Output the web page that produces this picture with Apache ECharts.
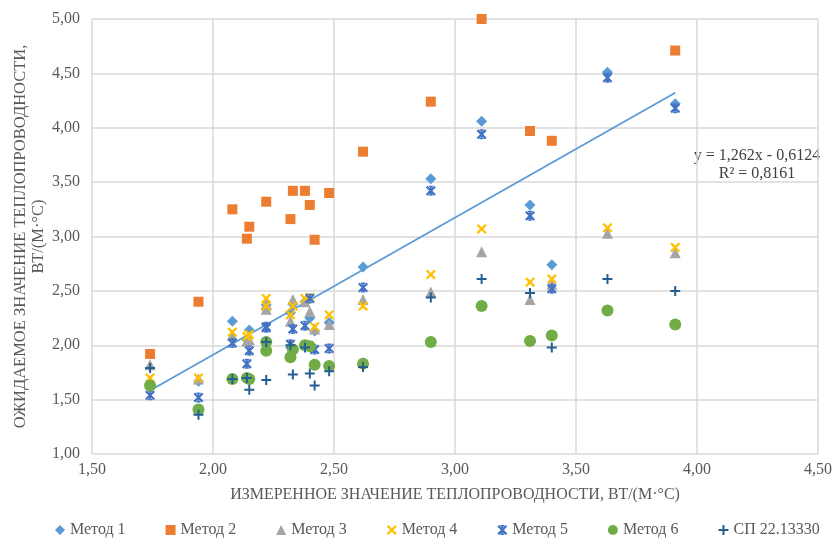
<!DOCTYPE html>
<html><head><meta charset="utf-8">
<script src="https://cdn.jsdelivr.net/npm/echarts@6/dist/echarts.min.js"></script>
<style>html,body{margin:0;padding:0;background:#fff}#c{width:832px;height:544px}</style>
</head><body><div id="c"></div>
<script>
// measured conductivity (x)
const xValues = [1.74, 1.94, 2.08, 2.14, 2.15, 2.22, 2.22, 2.32, 2.33, 2.38, 2.40, 2.42, 2.48, 2.62, 2.90, 3.11, 3.31, 3.40, 3.63, 3.91];
const metod1 = [1.64, 1.67, 2.22, 2.05, 2.14, 2.37, 2.33, 2.30, 2.38, 2.40, 2.25, 2.13, 2.21, 2.72, 3.53, 4.06, 3.29, 2.74, 4.51, 4.22];
const metod2 = [1.92, 2.40, 3.25, 2.98, 3.09, 3.32, null, 3.16, 3.42, 3.42, 3.29, 2.97, 3.40, 3.78, 4.24, 5.00, 3.97, 3.88, null, 4.71];
const metod3 = [1.82, 1.69, 2.09, 2.04, 2.05, 2.38, 2.33, 2.22, 2.42, 2.40, 2.31, 2.15, 2.19, 2.42, 2.49, 2.86, 2.42, 2.56, 3.03, 2.85];
const metod4 = [1.70, 1.70, 2.12, 2.08, 2.10, 2.43, 2.36, 2.28, 2.36, 2.43, 2.44, 2.17, 2.28, 2.36, 2.65, 3.07, 2.58, 2.61, 3.08, 2.90];
const metod5 = [1.54, 1.52, 2.02, 1.83, 1.95, 2.16, 2.17, 2.01, 2.15, 2.18, 2.43, 1.96, 1.97, 2.53, 3.42, 3.94, 3.19, 2.52, 4.46, 4.18];
const metod6 = [1.63, 1.41, 1.69, 1.70, 1.69, 2.03, 1.95, 1.89, 1.96, 2.00, 1.99, 1.82, 1.81, 1.83, 2.03, 2.36, 2.04, 2.09, 2.32, 2.19];
const sp = [1.79, 1.36, 1.69, 1.70, 1.59, 2.03, 1.68, 2.00, 1.73, 1.98, 1.74, 1.63, 1.76, 1.80, 2.44, 2.61, 2.48, 1.98, 2.61, 2.50];
const seriesNames = ['Метод 1', 'Метод 2', 'Метод 3', 'Метод 4', 'Метод 5', 'Метод 6', 'СП 22.13330'];
const trendSlope = 1.262, trendIntercept = -0.6124;
const trendLabel = ['y = 1,262x - 0,6124', 'R² = 0,8161'];
const xTitle = 'ИЗМЕРЕННОЕ ЗНАЧЕНИЕ ТЕПЛОПРОВОДНОСТИ, ВТ/(М·°С)';
const yTitle = 'ОЖИДАЕМОЕ ЗНАЧЕНИЕ ТЕПЛОПРОВОДНОСТИ,\nВТ/(М·°С)';

const FONT = 'Liberation Serif';
const pair = arr => xValues.map((x, i) => arr[i] == null ? null : [x, arr[i]]).filter(d => d);

const symX = 'path://M0,1.6 L1.6,0 L5,3.4 L8.4,0 L10,1.6 L6.6,5 L10,8.4 L8.4,10 L5,6.6 L1.6,10 L0,8.4 L3.4,5 Z';
const symStar = 'path://M0,1.6 L1.6,0 L5,3.4 L8.4,0 L10,1.6 L6.6,5 L10,8.4 L8.4,10 L5,6.6 L1.6,10 L0,8.4 L3.4,5 Z M3,0 H7 V1.4 H3 Z M3,8.6 H7 V10 H3 Z M4.2,0 H5.8 V10 H4.2 Z';
const symPlus = 'path://M4,0 H6 V4 H10 V6 H6 V10 H4 V6 H0 V4 H4 Z';

const defs = [
  {d: metod1, c: '#5B9BD5', s: 'diamond', z: 11},
  {d: metod2, c: '#ED7D31', s: 'rect', z: 10},
  {d: metod3, c: '#A5A5A5', s: 'triangle', z: 11},
  {d: metod4, c: '#FFC000', s: symX, z: 10},
  {d: metod5, c: '#4472C4', s: symStar, z: 10},
  {d: metod6, c: '#70AD47', s: 'circle', z: 12},
  {d: sp, c: '#255E91', s: symPlus, z: 10}
];

const series = defs.map((o, i) => ({
  name: seriesNames[i], type: 'scatter', data: pair(o.d), symbol: o.s, symbolSize: o.z,
  itemStyle: {color: o.c, opacity: 1}, clip: false, z: 3 + i
}));
const m1x = xValues.filter((x, i) => metod1[i] != null);
const tx0 = Math.min(...m1x), tx1 = Math.max(...m1x);
series.splice(1, 0, {
  name: 'trend', type: 'line', data: [[tx0, trendSlope * tx0 + trendIntercept], [tx1, trendSlope * tx1 + trendIntercept]],
  symbol: 'none', lineStyle: {color: '#5B9BD5', width: 1.8}, z: 3, silent: true
});

const chart = echarts.init(document.getElementById('c'), null, {renderer: 'canvas'});
chart.setOption({
  animation: false,
  backgroundColor: '#fff',
  textStyle: {fontFamily: FONT},
  grid: {left: 92, right: 14, top: 19, bottom: 90, containLabel: false, outerBoundsMode: 'none'},
  xAxis: {
    type: 'value', min: 1.5, max: 4.5, interval: 0.5,
    axisLine: {show: false}, axisTick: {show: false},
    axisLabel: {formatter: v => v.toFixed(2).replace('.', ','), color: '#595959', fontFamily: FONT, fontSize: 16, margin: 8},
    splitLine: {show: true, lineStyle: {color: '#D9D9D9', width: 1.5}},
    name: xTitle, nameLocation: 'middle', nameGap: 33, nameMoveOverlap: false,
    nameTextStyle: {color: '#595959', fontFamily: FONT, fontSize: 16}
  },
  yAxis: {
    type: 'value', min: 1, max: 5, interval: 0.5,
    axisLine: {show: false}, axisTick: {show: false},
    axisLabel: {formatter: v => v.toFixed(2).replace('.', ','), color: '#595959', fontFamily: FONT, fontSize: 16, margin: 12},
    splitLine: {show: true, lineStyle: {color: '#D9D9D9', width: 1.5}},
    name: yTitle, nameLocation: 'middle', nameGap: 44, nameRotate: 90, nameMoveOverlap: false,
    nameTextStyle: {color: '#595959', fontFamily: FONT, fontSize: 16.5, lineHeight: 18, align: 'center'}
  },
  legend: {
    data: seriesNames, bottom: 1, left: 50, itemWidth: 10, itemHeight: 10, itemGap: 40,
    textStyle: {color: '#595959', fontFamily: FONT, fontSize: 16}
  },
  series: series,
  graphic: [{
    type: 'group', left: 688, top: 144,
    children: [
      {type: 'rect', shape: {x: 0, y: 0, width: 140, height: 42}, style: {fill: '#fff'}},
      {type: 'text', x: 69, y: 4, style: {text: trendLabel[0], font: '16px ' + FONT, fill: '#404040', align: 'center'}},
      {type: 'text', x: 69, y: 22, style: {text: trendLabel[1], font: '16px ' + FONT, fill: '#404040', align: 'center'}}
    ]
  }]
});
</script></body></html>
